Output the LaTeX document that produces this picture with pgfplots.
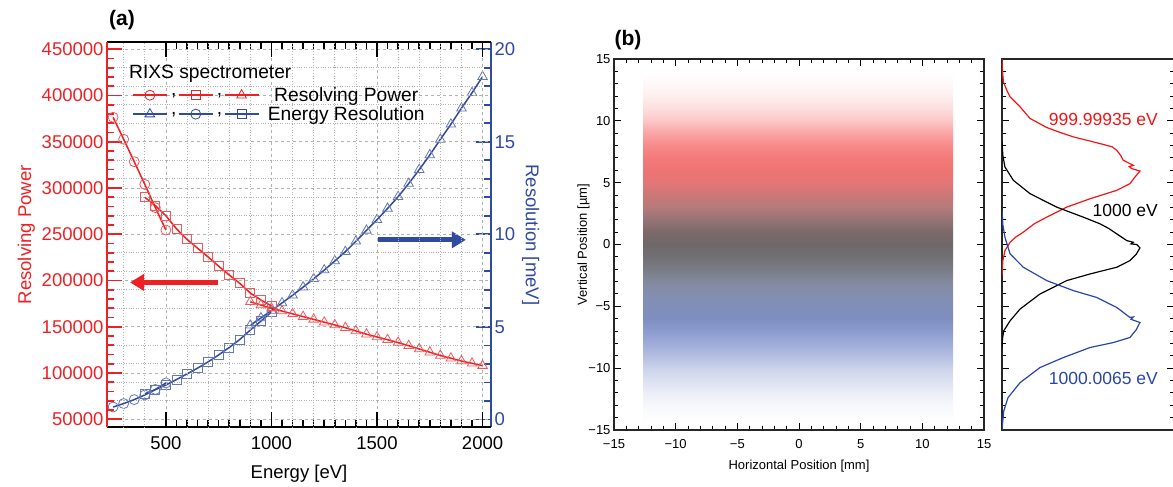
\documentclass[border=0pt]{standalone}
\usepackage{pgfplots}
\pgfplotsset{compat=1.18}
\usepackage{fontspec}
\setmainfont{Liberation Sans}
\usetikzlibrary{arrows.meta}
\definecolor{rpred}{RGB}{237,32,36}
\definecolor{erblue}{RGB}{48,74,160}
\definecolor{scred}{RGB}{240,20,20}
\definecolor{scblue}{RGB}{40,70,170}
\newcommand{\fa}{\fontsize{18.5}{22}\selectfont}
\newcommand{\fl}{\fontsize{19.2}{22}\selectfont}
\newcommand{\fb}{\fontsize{13}{15}\selectfont}
\newcommand{\comma}{,}
% density of the three spots on the detector, y = -15 ... 15 (1 um steps)
\pgfdeclareverticalshading{spots}{100bp}{
 rgb(0bp)=(1,1,1); rgb(25bp)=(1,1,1);
 rgb(26.67bp)=(.992,.993,.997); rgb(28.33bp)=(.966,.971,.987);
 rgb(30bp)=(.924,.935,.970); rgb(31.67bp)=(.865,.884,.947);
 rgb(33.33bp)=(.798,.826,.920); rgb(35bp)=(.705,.746,.883);
 rgb(36.67bp)=(.621,.674,.850); rgb(38.33bp)=(.551,.611,.810);
 rgb(40bp)=(.498,.559,.760); rgb(41.67bp)=(.503,.555,.725);
 rgb(43.33bp)=(.517,.556,.688); rgb(45bp)=(.515,.540,.621);
 rgb(46.67bp)=(.479,.487,.523); rgb(48.33bp)=(.447,.440,.454);
 rgb(50bp)=(.433,.405,.411); rgb(51.67bp)=(.486,.411,.414);
 rgb(53.33bp)=(.586,.453,.454); rgb(55bp)=(.705,.481,.481);
 rgb(56.67bp)=(.797,.465,.465); rgb(58.33bp)=(.891,.462,.462);
 rgb(60bp)=(.937,.451,.451); rgb(61.67bp)=(.957,.479,.479);
 rgb(63.33bp)=(.971,.539,.539); rgb(65bp)=(.977,.645,.645);
 rgb(66.67bp)=(.986,.779,.779); rgb(68.33bp)=(.992,.871,.871);
 rgb(70bp)=(.996,.935,.935); rgb(71.67bp)=(.998,.972,.972);
 rgb(73.33bp)=(1,1,1); rgb(100bp)=(1,1,1)}

\begin{document}
\begin{tikzpicture}
\path[use as bounding box] (0pt,0pt) rectangle (1173pt,487pt);

% ---------- (a) right axis: energy resolution ----------
\begin{axis}[
  at={(107pt,59.7pt)}, anchor=south west, scale only axis,
  width=384pt, height=385pt,
  xmin=221, xmax=2040, ymin=-0.432, ymax=20.378,
  hide x axis, axis y line*=right,
  y axis line style={erblue, line width=2pt},
  ytick={0,5,10,15,20}, yticklabels={0,5,10,15,20}, minor y tick num=4,
  ytick pos=right, yticklabel pos=right,
  tick align=inside, major tick length=15pt, minor tick length=7pt,
  y tick style={erblue, line width=1.6pt},
  yticklabel style={erblue, font=\fa},
  yminorgrids, minor grid style={gray!60, dotted, line width=0.7pt},
  ylabel={Resolution [meV]}, ylabel near ticks,
  ylabel style={erblue, rotate=180, font=\fa},
]
\addplot[erblue, line width=1.5pt, mark=o, mark size=5pt,
  mark options={solid, line width=0.8pt, erblue!75}] coordinates {
 (250,0.664) (300,0.851) (350,1.065) (400,1.316) (450,1.614) (500,1.964)};
\addplot[erblue, line width=1.5pt, mark=square, mark size=4.5pt,
  mark options={solid, line width=0.8pt, erblue!75}] coordinates {
 (400,1.379) (450,1.601) (500,1.852) (550,2.148) (600,2.454) (650,2.766)
 (700,3.104) (750,3.480) (800,3.883) (850,4.315) (900,4.826) (950,5.307)
 (1000,5.797)};
\addplot[erblue, line width=1.5pt, mark=triangle, mark size=5.5pt,
  mark options={solid, line width=0.8pt, erblue!75}] coordinates {
 (900,5.085) (950,5.476) (1000,5.882) (1050,6.287) (1100,6.707) (1150,7.143)
 (1200,7.595) (1250,8.065) (1300,8.553) (1350,9.060) (1400,9.622)
 (1450,10.211) (1500,10.791) (1550,11.397) (1600,12.030) (1650,12.741)
 (1700,13.492) (1750,14.286) (1800,15.126) (1850,15.948) (1900,16.814)
 (1950,17.647) (2000,18.519)};
\draw[erblue, line width=5pt, -{Triangle[length=14pt,width=16pt]}]
  (axis cs:1507,9.7) -- (axis cs:1921,9.7);
\end{axis}

% ---------- (a) left axis: resolving power ----------
\begin{axis}[
  at={(107pt,59.7pt)}, anchor=south west, scale only axis,
  width=384pt, height=385pt,
  xmin=221, xmax=2040, ymin=41350, ymax=457570,
  axis x line*=box, axis y line*=left,
  x axis line style={black, line width=2pt},
  y axis line style={rpred, line width=2pt},
  xtick={500,1000,1500,2000}, xticklabels={500,1000,1500,2000},
  minor x tick num=9, xtick pos=both,
  ytick={50000,100000,150000,200000,250000,300000,350000,400000,450000},
  yticklabels={50000,100000,150000,200000,250000,300000,350000,400000,450000},
  minor y tick num=4, ytick pos=left,
  tick align=inside, major tick length=15pt, minor tick length=7pt,
  x tick style={black, line width=1.6pt},
  y tick style={rpred, line width=1.6pt},
  scaled y ticks=false,
  xticklabel style={font=\fa, yshift=-6pt},
  yticklabel style={rpred, font=\fa},
  xmajorgrids, ymajorgrids,
  major grid style={gray!60, dashed, line width=0.7pt},
  extra x ticks={300,400,600,700,800,900,1100,1200,1300,1400,1600,1700,1800,1900},
  extra x tick labels={},
  extra x tick style={grid=major, major grid style={gray!60, dotted, line width=0.7pt}, major tick length=0pt},
  xlabel={Energy [eV]}, ylabel={Resolving Power},
  xlabel style={font=\fa, yshift=-8pt}, ylabel style={rpred, font=\fa},
  legend columns=3,
  legend style={at={(axis description cs:0.065,0.887)}, anchor=north west,
    draw=none, fill=none, inner sep=0pt, font=\fl, row sep=0.5pt,
    nodes={inner sep=1.5pt},
    /tikz/every odd column/.append style={column sep=2pt}},
  legend image code/.code={\draw[mark repeat=2,mark phase=2,#1]
    plot coordinates {(0pt,0pt) (17pt,0pt) (34pt,0pt)};},
]
\addplot[forget plot, rpred, line width=1.5pt, mark=o, mark size=5pt,
  mark options={solid, line width=0.8pt, rpred!75}] coordinates {
 (250,376500) (300,352700) (350,328500) (400,304000) (450,278800) (500,254600)};
\addplot[forget plot, rpred, line width=1.5pt, mark=square, mark size=4.5pt,
  mark options={solid, line width=0.8pt, rpred!75}] coordinates {
 (400,290000) (450,281000) (500,270000) (550,256000) (600,244500) (650,235000)
 (700,225500) (750,215500) (800,206000) (850,197000) (900,186500) (950,179000)
 (1000,172500)};
\addplot[forget plot, rpred, line width=1.5pt, mark=triangle, mark size=5.5pt,
  mark options={solid, line width=0.8pt, rpred!75}] coordinates {
 (900,177000) (950,173500) (1000,170000) (1050,167000) (1100,164000)
 (1150,161000) (1200,158000) (1250,155000) (1300,152000) (1350,149000)
 (1400,145500) (1450,142000) (1500,139000) (1550,136000) (1600,133000)
 (1650,129500) (1700,126000) (1750,122500) (1800,119000) (1850,116000)
 (1900,113000) (1950,110500) (2000,108000)};
\draw[rpred, line width=5pt, -{Triangle[length=14pt,width=16pt]}]
  (axis cs:746,198000) -- (axis cs:330,198000);
\addlegendimage{rpred, line width=1.5pt, mark=o, mark size=5pt, mark options={solid, line width=0.8pt}}
\addlegendentry{\comma}
\addlegendimage{rpred, line width=1.5pt, mark=square, mark size=4.5pt, mark options={solid, line width=0.8pt}}
\addlegendentry{\comma}
\addlegendimage{rpred, line width=1.5pt, mark=triangle, mark size=5.5pt, mark options={solid, line width=0.8pt}}
\addlegendentry{\hspace{5pt}Resolving Power}
\addlegendimage{erblue, line width=1.5pt, mark=triangle, mark size=5.5pt, mark options={solid, line width=0.8pt}}
\addlegendentry{\comma}
\addlegendimage{erblue, line width=1.5pt, mark=o, mark size=5pt, mark options={solid, line width=0.8pt}}
\addlegendentry{\comma}
\addlegendimage{erblue, line width=1.5pt, mark=square, mark size=4.5pt, mark options={solid, line width=0.8pt}}
\addlegendentry{\hspace{5pt}Energy Resolution}
\end{axis}
\node[anchor=west, font=\fl, inner sep=0pt] at (129pt,413pt) {RIXS spectrometer};
\node[font=\bfseries\fontsize{21}{24}\selectfont] at (122pt,467pt) {(a)};

% ---------- (b) scatter on the detector ----------
\begin{axis}[
  at={(614pt,57pt)}, anchor=south west, scale only axis,
  width=370pt, height=371pt, axis on top,
  xmin=-15, xmax=15, ymin=-15, ymax=15,
  xtick={-15,-10,...,15}, ytick={-15,-10,...,15}, minor tick num=4,
  xticklabels={−15,−10,−5,0,5,10,15}, yticklabels={−15,−10,−5,0,5,10,15},
  xtick pos=both, ytick pos=both,
  tick align=inside, major tick length=7pt, minor tick length=4pt,
  tick style={black, line width=1pt},
  axis line style={black!85, line width=1.2pt},
  tick label style={font=\fb},
  xticklabel style={yshift=-6pt},
  xlabel={Horizontal Position [mm]}, ylabel={Vertical Position [µm]},
  label style={font=\fb},
  xlabel style={yshift=-4pt}, ylabel shift=-8pt,
]
% spot density across the detector (red: 999.99935 eV, black: 1000 eV, blue: 1000.0065 eV)
\addplot[draw=none, shading=spots] coordinates {
 (-12.6,-15) (12.5,-15) (12.5,15) (-12.6,15)} -- cycle;
\end{axis}
\node[font=\bfseries\fontsize{21}{24}\selectfont] at (628pt,447pt) {(b)};

% ---------- (b) vertical profiles ----------
\begin{axis}[
  at={(1002pt,57pt)}, anchor=south west, scale only axis,
  width=172pt, height=371pt,
  xmin=0, xmax=1, ymin=-15, ymax=15,
  xtick=\empty, ytick={-15,-10,...,15}, minor y tick num=4,
  yticklabels={}, ytick pos=both,
  tick align=inside, major tick length=7pt, minor tick length=4pt,
  tick style={black, line width=1pt},
  axis line style={black!85, line width=1.2pt},
]
\addplot[scred, line width=1.2pt] coordinates {
 (0,15) (0.003,14) (0.008,13.16) (0.03,12.4) (0.047,11.94) (0.105,11.13)
 (0.163,10.19) (0.26,9.46) (0.33,9.1) (0.415,8.7) (0.57,8.16) (0.64,7.9)
 (0.667,7.62) (0.69,7.2) (0.705,6.81) (0.763,6.4) (0.74,6.3) (0.754,6.14)
 (0.802,5.94) (0.77,5.4) (0.744,4.92) (0.667,4.38) (0.512,3.70) (0.376,3.02)
 (0.26,2.21) (0.19,1.7) (0.124,1.0) (0.08,0.6) (0.047,0.18) (0.017,-0.49)
 (0.005,-1.3) (0,-2.5)};
\addplot[black, line width=1.2pt] coordinates {
 (0,8.3) (0.005,7.2) (0.017,6.27) (0.066,5.19) (0.163,4.11) (0.318,3.02)
 (0.473,2.21) (0.57,1.67) (0.62,1.3) (0.667,0.86) (0.725,0.32) (0.763,0.18)
 (0.75,0.05) (0.783,0.0) (0.802,-0.27) (0.78,-0.8) (0.744,-1.3) (0.667,-1.84)
 (0.512,-2.38) (0.376,-2.92) (0.221,-4.0) (0.105,-5.22) (0.047,-6.17)
 (0.01,-6.98) (0.003,-7.6) (0,-8.33)};
\addplot[scblue, line width=1.2pt] coordinates {
 (0,2.75) (0.005,1.6) (0.017,0.59) (0.047,-0.76) (0.124,-1.84) (0.26,-2.92)
 (0.415,-3.73) (0.55,-4.28) (0.667,-5.09) (0.744,-5.90) (0.763,-5.86)
 (0.75,-6.05) (0.802,-6.31) (0.78,-6.9) (0.744,-7.52) (0.647,-7.93)
 (0.512,-8.33) (0.357,-9.14) (0.221,-9.95) (0.105,-11.17) (0.035,-12.38)
 (0.01,-13.47) (0,-15)};
\node[anchor=east, scred, font=\fontsize{17.5}{20}\selectfont, inner sep=0pt] at (axis cs:0.907,10.07) {999.99935 eV};
\node[anchor=east, black, font=\fontsize{17.5}{20}\selectfont, inner sep=0pt] at (axis cs:0.907,2.79) {1000 eV};
\node[anchor=east, scblue, font=\fontsize{17.5}{20}\selectfont, inner sep=0pt] at (axis cs:0.907,-10.8) {1000.0065 eV};
\end{axis}
\end{tikzpicture}
\end{document}
